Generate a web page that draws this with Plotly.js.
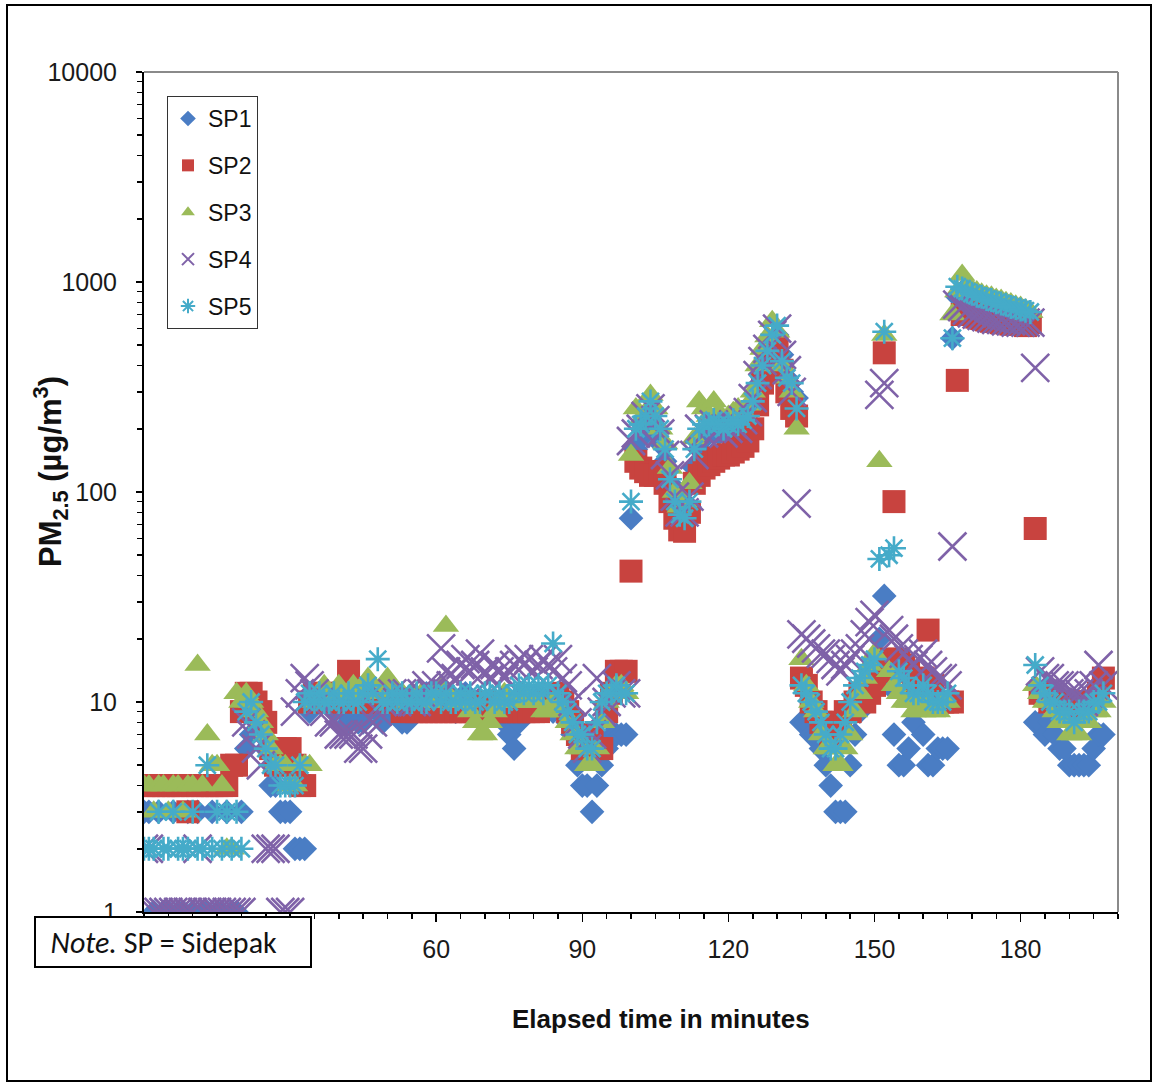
<!DOCTYPE html>
<html>
<head>
<meta charset="utf-8">
<script src="https://cdn.plot.ly/plotly-3.0.1.min.js"></script>
<style>
html,body{margin:0;padding:0;background:#fff;}
#chart{width:1154px;height:1086px;}
</style>
</head>
<body>
<div id="chart"></div>
<script>
// Elapsed time (minutes)
const minutes = [
0,1,2,3,4,5,6,7,8,9,10,11,12,13,14,15,16,17,18,19,
20,21,22,23,24,25,26,27,28,29,30,31,32,33,34,35,36,37,38,39,
40,41,42,43,44,45,46,47,48,49,50,51,52,53,54,55,56,57,58,59,
60,61,62,63,64,65,66,67,68,69,70,71,72,73,74,75,76,77,78,79,
80,81,82,83,84,85,86,87,88,89,90,91,92,93,94,95,96,97,98,99,
100,101,102,103,104,105,106,107,108,109,110,111,112,113,114,115,116,117,118,119,
120,121,122,123,124,125,126,127,128,129,130,131,132,133,134,135,136,137,138,139,
140,141,142,143,144,145,146,147,148,149,150,151,152,153,154,155,156,157,158,159,
160,161,162,163,164,165,166,167,168,169,170,171,172,173,174,175,176,177,178,179,
180,181,182,183,184,185,186,187,188,189,190,191,192,193,194,195,196,197];

const sp1 = [
3,3,1,3,1,1,3,1,1,3, 1,3,1,1,3,1,1,3,1,1,
3,6,7,9,8,6,4,4,3,3, 3,2,2,2,9,10,10,11,10,9,
10,9,8,9,8,8,9,10,9,8, 9,10,9,8,8,9,10,10,11,10,
10,11,10,10,9,10,11,10,9,10, 9,9,10,9,8,7,6,8,9,10,
10,11,10,10,9,10,9,8,7,5, 4,4,3,4,5,6,7,7,7,7,
75,160,180,200,220,200,170,140,110,90, 80,75,85,130,160,180,190,200,190,200,
190,200,210,210,220,250,300,350,420,500, 560,450,350,300,280,8,8,7,7,6,
5,4,3,3,3,5,7,9,10,12, 15,20,32,12,7,5,5,6,8,10,
7,5,5,6,6,6,540,850,900,880, 850,830,800,790,770,760,740,730,720,710,
700,690,680,8,8,7,8,7,6,6, 5,5,5,5,5,6,7,7];

const sp2 = [
4,4,4,4,4,4,4,4,4,3, 4,4,4,4,4,4,4,4,5,5,
9,11,11,10,9,8,6,5,5,6, 6,5,4,4,10,11,10,11,11,10,
10,11,14,11,10,10,11,10,10,11, 10,10,10,9,10,9,9,9,9,9,
9,9,9,9,9,9,9,9,9,10, 10,9,9,9,9,9,9,9,9,9,
9,9,10,10,10,11,10,9,8,7, 6,6,7,6,6,9,11,14,14,14,
42,140,130,125,120,120,125,110,90,75, 66,65,80,110,120,130,135,140,145,150,
150,155,160,165,175,200,260,330,420,500, 490,380,300,250,230,13,12,10,9,8,
8,7,8,8,9,9,10,11,10,11, 12,14,460,16,90,16,15,14,12,11,
13,22,12,10,10,10,10,340,700,720, 700,680,670,660,650,650,640,640,630,630,
630,620,640,67,11,11,10,10,10,10, 10,9,10,9,10,10,11,13];

const sp3 = [
4,4,3,4,4,3,4,4,3,4, 4,15,4,7,5,5,4,2,2,11,
10,11,10,9,8,7,6,5,5,5, 4,4,5,5,5,10,11,12,11,11,
12,11,11,12,11,12,13,12,11,12, 13,12,11,11,10,11,10,11,10,10,
11,12,23,11,10,10,10,9,8,7, 7,8,9,10,11,10,10,10,11,10,
10,10,9,9,10,10,9,8,7,6, 6,5,5,6,8,10,11,12,12,11,
150,250,220,240,290,250,200,170,130,100, 85,90,110,180,270,250,230,270,240,220,
230,240,250,240,260,300,400,480,550,650, 580,400,350,300,200,16,12,10,9,7,
6,6,5,5,6,7,9,11,13,15, 17,140,560,14,12,11,10,10,9,10,
9,10,9,9,10,10,700,900,1080,950, 920,900,880,860,850,830,820,800,790,770,
760,740,720,12,11,10,10,9,8,8, 7,7,7,8,8,9,9,10];

const sp4 = [
2,2,1,1,1,1,1,1,1,1, 1,2,1,1,1,1,1,1,1,1,
1,8,7,6,5,2,2,2,1,1, 1,9,11,13,12,11,10,9,8,8,
7,7,7,7,6,6,7,8,9,10, 10,11,10,11,11,10,10,11,12,11,
12,18,14,12,13,15,16,14,15,17, 14,13,15,14,13,14,15,16,15,16,
14,15,16,15,14,16,13,12,10,8, 7,6,7,13,9,10,11,12,11,11,
175,190,200,230,250,220,190,150,120,95, 80,80,95,150,200,190,200,210,200,190,
200,210,200,220,240,280,360,420,480,560, 600,450,380,300,88,21,20,19,18,17,
17,16,15,14,15,16,17,18,21,24, 26,290,330,22,20,18,17,16,15,16,
17,15,14,13,13,12,55,780,760,730, 710,700,690,680,670,660,660,650,650,640,
640,640,640,390,14,13,13,12,12,12, 11,11,11,10,11,12,15,12];

const sp5 = [
2,2,2,3,2,2,3,2,2,2, 3,2,2,5,2,3,2,3,2,3,
2,9,10,8,7,6,5,5,4,4, 4,4,5,10,11,10,11,10,10,11,
10,10,11,10,10,11,12,11,16,10, 10,11,10,11,10,10,11,10,10,11,
11,10,11,10,10,11,10,11,10,10, 11,11,10,11,10,10,11,12,11,12,
11,12,11,12,19,11,10,9,8,7, 7,6,6,8,10,11,11,12,11,11,
90,200,210,230,270,230,200,160,115,90, 78,75,90,160,200,210,210,220,210,200,
210,220,210,220,230,270,330,400,470,560, 620,420,350,330,250,12,11,10,9,8,
7,6,6,7,8,10,12,13,14,15, 16,48,580,50,54,14,13,12,11,11,
12,11,10,10,10,11,540,950,930,900, 880,860,850,830,820,800,790,780,760,750,
740,730,720,15,12,11,10,10,9,9, 9,8,9,9,9,10,10,11];

const seriesNames = ['SP1','SP2','SP3','SP4','SP5'];
const seriesValues = [sp1, sp2, sp3, sp4, sp5];
const xTickVals = [60,90,120,150,180];
const xTickText = ['60','90','120','150','180'];
const yMajor = [1,10,100,1000,10000];

// styles
const colors = ['#4a7dc4','#c8433f','#9bbb59','#7f62a8','#45abc9'];
const symbols = ['diamond','square','triangle-up','x-thin','asterisk'];
const sizes = [19,23,23,28,20];

const traces = seriesNames.map((n,i)=>({
  type:'scatter', mode:'markers', name:n, x:minutes, y:seriesValues[i],
  legendgroup:'g'+i,
  marker:{symbol:symbols[i], size:sizes[i], color:colors[i],
          line:{color:colors[i], width:(i>=3?2.6:0)}},
  hoverinfo:'x+y+name'
}));

const L=144, R=1118, T=72, B=912, W=1154, H=1086;
const px = x => (x-L)/(R-L);
const py = y => (B-y)/(B-T);

const tickFont = {family:'Liberation Sans, Arial, sans-serif', size:25, color:'#1a1a1a'};

const layout = {
  width:W, height:H,
  margin:{l:L, r:W-R, t:T, b:H-B, pad:0},
  paper_bgcolor:'#fff', plot_bgcolor:'#fff',
  showlegend:true,
  legend:{x:px(167), y:py(96), xanchor:'left', yanchor:'top',
    bordercolor:'#333', borderwidth:1, bgcolor:'#fff',
    font:{family:'Liberation Sans, Arial, sans-serif', size:23, color:'#111'},
    itemsizing:'constant', tracegroupgap:14, itemwidth:30},
  xaxis:{range:[0,200], tickmode:'array', tickvals:xTickVals, ticktext:xTickText,
    ticks:'outside', ticklen:8, tickwidth:1.5, tickcolor:'#000',
    minor:{dtick:5, tick0:0, ticks:'outside', ticklen:5, tickwidth:1.5, tickcolor:'#000', showgrid:false},
    showline:true, linecolor:'#000', linewidth:2, showgrid:false, zeroline:false,
    tickfont:tickFont, ticklabelstandoff:6},
  yaxis:{type:'log', range:[0,4], tickmode:'array', tickvals:yMajor, ticktext:yMajor.map(String),
    ticks:'outside', ticklen:6, tickwidth:1.5, tickcolor:'#000',
    minor:{dtick:'D1', ticks:'outside', ticklen:5, tickwidth:1.5, tickcolor:'#000', showgrid:false},
    showline:true, linecolor:'#000', linewidth:2, showgrid:false, zeroline:false,
    tickfont:tickFont, ticklabelstandoff:14},
  shapes:[
    {type:'line', xref:'paper', yref:'paper', x0:0, x1:1, y0:1, y1:1, line:{color:'#8a8a8a', width:2}},
    {type:'line', xref:'paper', yref:'paper', x0:1, x1:1, y0:0, y1:1, line:{color:'#8a8a8a', width:2}},
    {type:'rect', xref:'paper', yref:'paper', x0:px(7), x1:px(1151), y0:py(5), y1:py(1081), line:{color:'#000', width:2}, fillcolor:'rgba(0,0,0,0)'}
  ],
  annotations:[
    {xref:'paper', yref:'paper', x:px(661), y:py(1019), xanchor:'center', yanchor:'middle', showarrow:false,
     text:'<b>Elapsed time in minutes</b>', font:{family:'Liberation Sans, Arial, sans-serif', size:26, color:'#111'}},
    {xref:'paper', yref:'paper', x:px(50), y:py(472), xanchor:'center', yanchor:'middle', showarrow:false, textangle:-90,
     text:'<b>PM<sub>2.5</sub> (µg/m<sup>3</sup>)</b>', font:{family:'Liberation Sans, Arial, sans-serif', size:31, color:'#111'}},
    {xref:'paper', yref:'paper', x:px(34), y:py(916), xanchor:'left', yanchor:'top', showarrow:false,
     text:'&nbsp;&nbsp;<i>Note.</i> SP = Sidepak', align:'left', width:272, height:46, borderpad:1,
     bordercolor:'#000', borderwidth:2, bgcolor:'#fff',
     font:{family:'Carlito, Lato, Open Sans, sans-serif', size:30, color:'#111'}}
  ]
};

Plotly.newPlot('chart', traces, layout, {displayModeBar:false, staticPlot:true});
</script>
</body>
</html>
